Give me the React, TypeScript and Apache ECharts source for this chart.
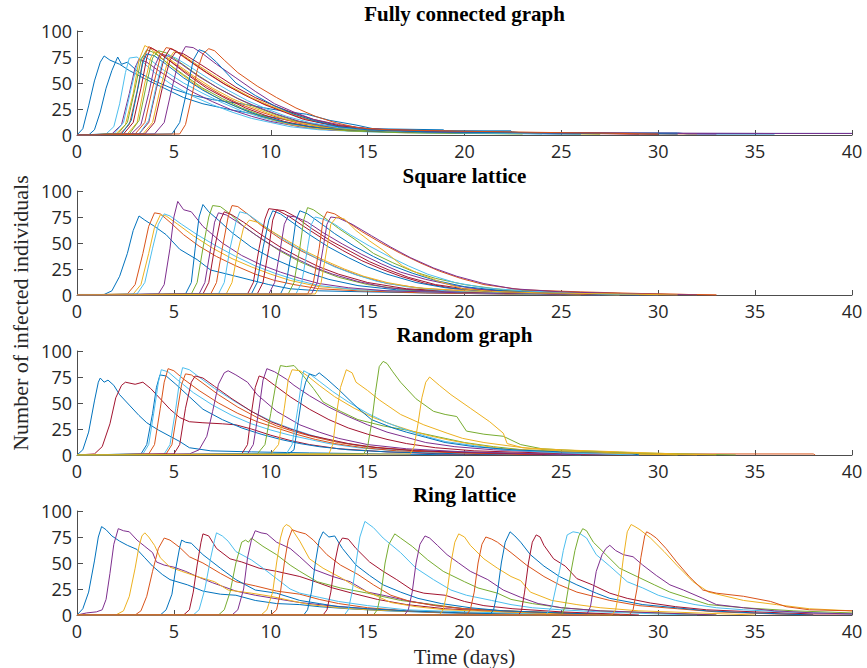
import React, { useEffect, useRef } from "react";
import * as echarts from "echarts";

type Curve = { c: number; p: number[][] };

const COLORS = ["#0072BD", "#D95319", "#EDB120", "#7E2F8E", "#77AC30", "#4DBEEE", "#A2142F"];
const PANEL_TITLES = ["Fully connected graph", "Square lattice", "Random graph", "Ring lattice"];
const X_LABEL = "Time (days)";
const Y_LABEL = "Number of infected individuals";
const X_RANGE = [0, 40, 5];
const Y_RANGE = [0, 100, 25];

const fullyConnected: Curve[] = [
  { c: 0, p: [[0,0],[0.3,6],[0.6,28],[0.9,52],[1.2,70],[1.4,76],[1.7,72],[2.2,68],[2.7,62],[3.5,54],[4.5,45],[5.5,36],[6.5,30],[8,24],[9.5,19],[11,14],[12.5,10],[14,7],[16,5],[19,4],[22.5,3],[23,2],[31,2],[31.5,1],[36,1]] },
  { c: 0, p: [[0,0],[0.6,0],[0.9,5],[1.2,22],[1.5,45],[1.8,62],[2.1,75],[2.3,68],[2.6,70],[3.2,60],[4,52],[5,44],[6,38],[7,34],[8.5,30],[10,25],[11,22],[11.85,20],[13.06,14],[14.4,9.6],[15.3,6],[18.9,5],[19,4],[22.4,4],[22.5,1.5],[40,1.5]] },
  { c: 5, p: [[0,0],[1.5,1],[1.9,8],[2.2,30],[2.5,60],[2.7,74],[3.1,75],[3.4,70],[4,60],[5,47],[6,37],[7,29],[8,22],[9,16],[10,12],[11,8],[12.5,5],[15,3],[20,2],[25,1]] },
  { c: 3, p: [[0,0],[1.8,1],[2.3,10],[2.7,40],[3.0,65],[3.2,73],[3.6,70],[4.2,62],[5,52],[6,41],[7,32],[8,24],[9,18],[10,13],[11.5,8],[13,5],[16,3],[21,2],[26,1]] },
  { c: 5, p: [[0,0],[1.9,1],[2.4,12],[2.8,45],[3.1,68],[3.4,76],[3.8,72],[4.5,62],[5.5,50],[6.5,40],[7.5,31],[8.5,23],[9.5,17],[10.5,12],[12,7],[14,4],[18,2],[24,1]] },
  { c: 2, p: [[0,0],[2.0,1],[2.5,10],[2.9,40],[3.2,72],[3.5,86],[3.8,83],[4.3,75],[5,64],[6,50],[7,38],[8,29],[9,21],[10,15],[11,10],[12.5,6],[14,4],[18,3],[21,2],[27,1]] },
  { c: 4, p: [[0,0],[2.1,1],[2.6,12],[3.0,45],[3.3,72],[3.6,82],[4,79],[4.6,70],[5.5,58],[6.5,45],[7.5,35],[8.5,26],[9.5,19],[10.5,13],[12,8],[14,4],[17,2],[23,1]] },
  { c: 1, p: [[0,0],[2.2,1],[2.7,10],[3.1,42],[3.4,72],[3.7,85],[4.0,82],[4.6,74],[5.5,62],[6.5,49],[7.5,38],[8.5,29],[9.5,22],[10.5,16],[11.5,11],[13,7],[15,4],[19,3],[24,2],[30,1]] },
  { c: 6, p: [[0,0],[2.4,1],[2.9,12],[3.3,45],[3.6,74],[3.8,84],[4.2,80],[4.8,71],[5.7,58],[6.7,45],[7.7,35],[8.7,26],[9.7,19],[10.7,13],[12,8],[14,5],[17,3],[22,2],[29,1]] },
  { c: 0, p: [[0,0],[2.3,1],[2.8,14],[3.2,50],[3.4,70],[3.6,78],[4,76],[4.6,68],[5.5,55],[6.5,43],[7.5,33],[8.5,25],[9.5,18],[11,11],[12.5,7],[15,4],[20,2],[26,1]] },
  { c: 2, p: [[0,0],[2.6,1],[3.1,12],[3.5,50],[3.8,74],[4.0,80],[4.4,78],[5,70],[6,57],[7,45],[8,35],[9,27],[10,20],[11,14],[12.5,8],[14.5,5],[18,3],[25,2],[32,1]] },
  { c: 4, p: [[0,0],[2.7,1],[3.2,14],[3.6,50],[3.9,74],[4.2,81],[4.6,79],[5.3,70],[6.2,58],[7.2,46],[8.2,36],[9.2,27],[10.2,20],[11.2,14],[12.5,9],[14,5],[17,3],[21,2],[27,1]] },
  { c: 3, p: [[0,0],[2.8,1],[3.3,10],[3.7,40],[4.0,66],[4.3,78],[4.7,76],[5.4,68],[6.3,56],[7.3,45],[8.3,35],[9.3,27],[10.3,20],[11.5,13],[13,8],[15,5],[19,3],[25,2],[33,1]] },
  { c: 1, p: [[0,0],[3.0,1],[3.5,12],[3.9,45],[4.3,75],[4.6,84],[4.9,83],[5.5,75],[6.5,62],[7.5,50],[8.5,40],[9.5,31],[10.5,24],[11.5,17],[12.5,12],[14,7],[16,4],[20,3],[26,2],[31,1]] },
  { c: 6, p: [[0,0],[3.2,1],[3.7,12],[4.1,45],[4.5,74],[4.8,83],[5.1,81],[5.7,73],[6.7,60],[7.7,48],[8.7,38],[9.7,29],[10.7,22],[11.7,15],[13,10],[15,6],[18,4],[23,2],[30,1]] },
  { c: 5, p: [[0,0],[3.2,1],[3.7,14],[4.1,48],[4.4,70],[4.7,77],[5.1,74],[5.8,66],[6.8,54],[7.8,43],[8.8,33],[9.8,25],[10.8,18],[12,12],[13.5,7],[16,4],[20,2],[26,1]] },
  { c: 2, p: [[0,0],[3.4,1],[3.9,12],[4.3,45],[4.7,72],[5.0,80],[5.3,79],[6,70],[7,58],[8,46],[9,36],[10,28],[11,21],[12,15],[13.5,9],[15.5,5],[19,3],[24,2]] },
  { c: 6, p: [[0,0],[3.5,1],[4.0,12],[4.4,45],[4.8,72],[5.1,80],[5.5,78],[6.2,70],[7.2,58],[8.2,46],[9.2,36],[10.2,28],[11.2,21],[12.2,15],[13.5,9],[15.5,5],[19,3],[25,2],[30,1]] },
  { c: 3, p: [[0,0],[4.0,1],[4.5,12],[4.9,45],[5.3,75],[5.6,85],[6.0,84],[6.5,78],[7.2,68],[8.2,55],[9.2,42],[10.2,30],[11.2,22],[12.2,15],[13.5,10],[15,6],[18,3],[25,2],[36,1.5],[40,1.5]] },
  { c: 0, p: [[0,0],[4.9,1],[5.3,12],[5.7,45],[6.0,72],[6.3,82],[6.6,80],[7.2,70],[8.2,50],[9.2,38],[10.2,28],[11.2,20],[12.2,14],[13.5,8],[15,5],[18,3],[24,2],[31,1]] },
  { c: 1, p: [[0,0],[5.3,1],[5.6,10],[5.9,35],[6.2,62],[6.5,78],[6.8,83],[7.1,81],[7.6,72],[8.3,60],[9.3,47],[10.3,36],[11.3,26],[12.3,18],[13.3,12],[14.5,7],[16,5],[19,4],[22,3],[26,2],[30,1]] },
];

const squareLattice: Curve[] = [
  { c: 0, p: [[0,0.5],[1.4,0.5],[1.8,4],[2.2,18],[2.6,40],[2.9,62],[3.2,76],[3.5,72],[4,66],[4.6,58],[5.3,44],[6.2,34],[6.9,24],[8.2,18],[9.9,10],[11,6],[12.5,4],[15,3],[18,2],[22,1],[25,0]] },
  { c: 1, p: [[0,0],[2.6,1],[3.0,10],[3.4,40],[3.7,66],[4.0,79],[4.3,78],[4.8,70],[5.5,58],[6.3,47],[7.2,37],[8.2,28],[9.2,20],[10.2,14],[11.2,10],[12.5,6],[14.5,4],[18,2],[22,1],[25,0]] },
  { c: 2, p: [[0,0],[2.9,1],[3.3,10],[3.7,40],[4.0,65],[4.3,77],[4.6,76],[5.2,68],[6,57],[7,45],[8,35],[9,27],[10,20],[11,14],[12.5,8],[14.5,5],[18,3],[23,1],[26,0]] },
  { c: 5, p: [[0,0],[3.1,1],[3.5,12],[3.9,45],[4.2,68],[4.5,78],[4.8,76],[5.4,68],[6.2,58],[7.2,47],[8.2,37],[9.2,28],[10.2,21],[11.2,15],[12.5,9],[14.5,5],[18,3],[23,1],[27,0]] },
  { c: 3, p: [[0,0],[4.2,1],[4.5,10],[4.8,45],[5.0,75],[5.2,90],[5.5,82],[5.9,80],[6.5,66],[7.5,50],[8.5,38],[9.5,29],[10.5,22],[11.5,16],[12.5,11],[14,7],[16,4],[20,2],[25,1],[28,0]] },
  { c: 0, p: [[0,0],[5.6,1],[5.9,12],[6.1,45],[6.3,75],[6.5,87],[6.8,80],[7.3,72],[8,60],[9,46],[10,36],[11,28],[12,21],[13,15],[14.5,9],[16.5,5],[20,3],[25,1],[28,0]] },
  { c: 4, p: [[0,0],[5.9,1],[6.2,12],[6.5,45],[6.8,75],[7.0,86],[7.4,85],[7.9,78],[8.6,66],[9.5,54],[10.5,42],[11.5,32],[12.5,24],[13.5,17],[15,10],[17,5],[20,3],[25,1],[28,0]] },
  { c: 3, p: [[0,0],[6.3,1],[6.6,12],[6.9,45],[7.1,70],[7.3,79],[7.7,77],[8.3,70],[9.2,58],[10.2,46],[11.2,36],[12.2,27],[13.2,20],[14.5,13],[16,7],[18,4],[22,2],[27,0]] },
  { c: 6, p: [[0,0],[6.5,1],[6.8,12],[7.1,45],[7.4,72],[7.6,80],[8.0,77],[8.6,70],[9.5,58],[10.5,46],[11.5,36],[12.5,27],[13.5,20],[15,12],[17,6],[20,3],[25,1],[28,0]] },
  { c: 1, p: [[0,0],[6.9,1],[7.2,12],[7.5,45],[7.8,75],[8.0,86],[8.3,85],[8.8,78],[9.5,67],[10.5,54],[11.5,43],[12.5,34],[13.5,26],[14.5,19],[16,11],[18,6],[21,3],[25,2],[30,1],[33,0]] },
  { c: 5, p: [[0,0],[7.3,1],[7.6,12],[7.9,45],[8.2,70],[8.4,80],[8.8,78],[9.4,70],[10.3,58],[11.3,46],[12.3,36],[13.3,27],[14.3,20],[15.5,13],[17,8],[19,4],[23,2],[28,0]] },
  { c: 2, p: [[0,0],[7.7,1],[8.0,12],[8.3,42],[8.6,65],[8.9,72],[9.3,70],[9.9,63],[10.8,53],[11.8,42],[12.8,33],[13.8,25],[14.8,18],[16,12],[17.5,7],[20,4],[24,2],[28,0]] },
  { c: 6, p: [[0,0],[8.8,1],[9.1,12],[9.4,45],[9.7,73],[9.9,83],[10.3,82],[10.9,76],[11.7,66],[12.7,54],[13.7,43],[14.7,33],[15.7,25],[16.7,18],[18,11],[19.5,6],[22,3],[26,1],[29,0]] },
  { c: 0, p: [[0,0],[9.0,1],[9.3,12],[9.6,45],[9.9,72],[10.1,81],[10.5,78],[11.1,70],[12,58],[13,46],[14,36],[15,27],[16,20],[17.5,12],[19,7],[21,4],[25,2],[29,0]] },
  { c: 6, p: [[0,0],[9.3,1],[9.6,12],[9.9,45],[10.1,72],[10.3,82],[10.7,81],[11.3,75],[12.1,64],[13.1,52],[14.1,42],[15.1,32],[16.1,24],[17.1,17],[18.5,10],[20,6],[23,3],[27,1],[30,0]] },
  { c: 3, p: [[0,0],[9.9,1],[10.2,12],[10.5,45],[10.7,68],[10.9,76],[11.3,75],[11.9,70],[12.7,60],[13.7,49],[14.7,39],[15.7,30],[16.7,22],[18,15],[19.5,9],[21,5],[24,3],[28,1],[31,0]] },
  { c: 0, p: [[0,0],[10.5,1],[10.8,12],[11.1,45],[11.3,72],[11.5,81],[11.9,78],[12.5,70],[13.3,59],[14.3,47],[15.3,37],[16.3,28],[17.3,21],[18.5,14],[20,8],[22,4],[25,2],[29,0]] },
  { c: 4, p: [[0,0],[10.9,1],[11.2,12],[11.5,45],[11.7,72],[11.9,84],[12.2,82],[12.8,74],[13.5,64],[14.3,54],[15.3,40],[16.3,31],[17.3,23],[18.5,16],[20,10],[22,5],[25,3],[29,1],[32,0]] },
  { c: 5, p: [[0,0],[11.3,1],[11.6,12],[11.9,45],[12.1,68],[12.3,75],[12.7,73],[13.3,68],[14.1,58],[15.1,47],[16.1,37],[17.1,28],[18.1,20],[19.5,12],[21,7],[23,4],[27,1],[30,0]] },
  { c: 1, p: [[0,0],[11.9,1],[12.2,12],[12.5,45],[12.7,72],[12.9,80],[13.3,78],[13.9,71],[14.7,61],[15.7,50],[16.7,40],[17.7,31],[18.7,23],[19.8,16],[21,10],[23,5],[26,3],[30,1],[33,0]] },
  { c: 3, p: [[0,0],[12.1,1],[12.4,12],[12.7,45],[12.9,68],[13.1,75],[13.5,74],[14.2,68],[15.2,57],[16.2,46],[17.2,36],[18.4,26],[19.6,18],[21,11],[22.5,6],[25,3],[29,1],[32,0]] },
  { c: 2, p: [[0,0],[12.3,1],[12.6,12],[12.9,45],[13.1,68],[13.4,75],[13.8,73],[14.4,62],[15.1,52],[15.8,43],[16.8,28],[17.7,20],[18.7,13],[19.9,6],[21.4,3.5],[24,2],[28,1],[31,0]] },
];

const randomGraph: Curve[] = [
  { c: 0, p: [[0,0],[0.3,5],[0.6,22],[0.9,52],[1.1,70],[1.2,74],[1.4,70],[1.6,72],[1.9,67],[2.2,58],[2.7,48],[3.2,38],[3.6,31],[4.2,24],[4.8,18],[5.3,13],[5.8,7],[6.9,4],[9,3],[12,2],[16,1],[20,0]] },
  { c: 6, p: [[0,0],[0.9,1],[1.3,8],[1.7,30],[2.0,55],[2.3,67],[2.5,70],[3.0,68],[3.4,70],[3.8,64],[4.3,54],[4.8,44],[5.3,36],[5.8,32],[6.5,31],[7.5,30],[8.2,29],[9,25],[10,19],[11,14],[12,10],[13.5,6],[16,3],[19,1],[22,0]] },
  { c: 0, p: [[0,0],[3.3,1],[3.6,10],[3.9,40],[4.1,65],[4.28,77],[4.6,76],[5.1,68],[5.8,56],[6.5,44],[7.5,34],[8.5,26],[9.5,20],[10.5,15],[11.5,11],[12.5,8],[14,5],[16,3],[20,1],[24,0]] },
  { c: 5, p: [[0,0],[3.4,1],[3.7,10],[4.0,45],[4.2,70],[4.35,82],[4.7,80],[5.2,72],[6,60],[7,48],[8,38],[9,30],[10,24],[11,19],[12,15],[13,11],[14.5,7],[16.5,4],[20,2],[25,0]] },
  { c: 1, p: [[0,0],[3.7,1],[4.0,10],[4.3,45],[4.5,70],[4.7,83],[5.0,81],[5.5,73],[6.3,62],[7.3,50],[8.3,40],[9.3,32],[10.3,26],[11.3,20],[12.3,15],[13.3,11],[14.8,7],[16.5,4],[20,2],[26,1],[38,1],[38.1,0]] },
  { c: 5, p: [[0,0],[4.5,1],[4.8,10],[5.1,45],[5.3,72],[5.45,84],[5.8,82],[6.3,75],[7.1,64],[8.1,52],[9.1,41],[10.1,32],[11.1,25],[12.1,19],[13.1,14],[14.5,9],[16,6],[18,4],[22,2],[26,0]] },
  { c: 1, p: [[0,0],[4.6,1],[4.9,10],[5.2,45],[5.4,68],[5.6,78],[5.9,77],[6.5,69],[7.3,58],[8.3,46],[9.3,36],[10.3,28],[11.3,22],[12.3,17],[13.5,12],[15,8],[17,5],[20,2],[24,0]] },
  { c: 6, p: [[0,0],[5.0,1],[5.3,10],[5.6,45],[5.9,70],[6.1,76],[6.5,74],[7.1,66],[8,54],[9,42],[10,32],[11,25],[12,19],[13,15],[14,11],[15.5,7],[17.5,4],[21,2],[25,0]] },
  { c: 3, p: [[0,0],[5.8,1],[6.3,5],[6.7,18],[7.0,42],[7.3,68],[7.6,79],[7.8,81],[8.2,77],[8.8,70],[9.3,58],[10.3,42],[11.5,29],[12.5,22],[13.5,16],[15,10],[17,6],[20,3],[24,1],[27,0]] },
  { c: 6, p: [[0,0],[8.5,1],[8.8,10],[9.0,40],[9.2,65],[9.4,76],[9.7,74],[10.2,67],[11,56],[12,44],[13,34],[14,26],[15,20],[16,15],[17,11],[18.5,7],[20.5,4],[24,2],[28,0]] },
  { c: 3, p: [[0,0],[8.8,1],[9.1,10],[9.4,45],[9.6,72],[9.8,83],[10.2,80],[10.8,73],[11.2,67],[12,57],[13,46],[14,37],[15,29],[16,22],[17,17],[18,12],[19.5,8],[21.5,5],[25,2],[29,0]] },
  { c: 4, p: [[0,0],[9.3,1],[9.7,10],[10.0,40],[10.3,72],[10.5,86],[10.8,85],[11.2,86],[11.6,78],[12.2,64],[12.7,51],[13.6,42],[14.5,34],[15.8,28],[17,24],[18,20],[19,16],[20,12],[21.5,8],[23,5],[26,3],[31,0]] },
  { c: 2, p: [[0,0],[10.0,1],[10.4,10],[10.7,45],[10.9,72],[11.1,82],[11.5,81],[11.9,76],[12.5,67],[13.3,56],[14.3,45],[15.3,36],[16.3,29],[17.3,23],[18.3,18],[19.3,14],[20.5,10],[22,6],[24,4],[27,2],[31,0]] },
  { c: 5, p: [[0,0],[10.8,1],[11.1,10],[11.4,45],[11.6,72],[11.7,81],[12.0,78],[12.5,71],[13.2,61],[14,51],[15,40],[16,31],[17,24],[18,18],[19,13],[20.5,9],[22,5],[25,2],[29,0]] },
  { c: 0, p: [[0,0],[10.9,1],[11.2,5],[11.4,30],[11.6,55],[11.8,70],[12.0,78],[12.3,76],[12.5,79],[12.9,73],[13.5,63],[14.5,45],[15.2,34],[16.3,26],[17,22],[18,17],[19,12],[20.5,8],[22.5,5],[25,3],[28.5,2],[29,0]] },
  { c: 2, p: [[0,0],[13.0,1],[13.2,10],[13.4,40],[13.6,65],[13.9,82],[14.2,79],[14.4,70],[15,62],[15.6,53],[16.7,39],[17.9,29],[19.1,21],[19.9,16],[21,12],[22.2,9],[23.5,6],[25,4],[28,2],[32,0]] },
  { c: 4, p: [[0,0],[14.8,1],[15.0,8],[15.2,30],[15.4,60],[15.6,85],[15.8,90],[16.0,88],[16.3,80],[16.7,70],[17.5,54],[18.4,42],[19.0,39],[19.6,37],[20.1,23],[21,20],[22,18],[22.9,10],[24,6],[26,4],[29,2],[34,0]] },
  { c: 2, p: [[0,0],[17.2,1],[17.4,8],[17.6,30],[17.8,55],[18.0,70],[18.2,75],[18.7,67],[19.3,58],[20.3,45],[21.3,32],[22,21],[22.2,11],[23,7],[25,5],[28,3],[31,1],[33,0]] },
];

const ringLattice: Curve[] = [
  { c: 0, p: [[0,0],[0.3,6],[0.6,22],[0.9,52],[1.1,75],[1.27,85],[1.5,82],[1.8,76],[2.2,71],[2.6,67],[3.1,63],[3.5,55],[3.9,47],[4.4,39],[4.8,34],[5.7,29],[6.5,23],[7.4,20],[8.2,19],[9.2,14],[10.3,11],[11.5,10],[12.5,8],[14,6],[16,4],[19,2],[23,1],[26,0]] },
  { c: 3, p: [[0,0],[0.5,2],[1.0,3],[1.3,5],[1.5,15],[1.7,40],[1.9,68],[2.13,83],[2.4,81],[2.7,80],[3.1,72],[3.5,66],[3.9,60],[4.1,51],[4.5,48],[5,46],[5.6,42],[6.2,37],[7,31],[8.2,23],[9.2,19],[10.5,15],[11.5,12],[13,9],[15,6],[18,3],[22,1],[26,0]] },
  { c: 2, p: [[0,0],[2.0,0],[2.4,4],[2.7,18],[3.0,45],[3.2,66],[3.35,76],[3.5,79],[3.7,75],[4.0,67],[4.3,55],[4.8,46],[5.4,42],[6.2,37],[7.1,32],[7.8,24],[9,21],[10,18],[11,14],[12,10],[13.5,7],[15,5],[18,3],[22,1],[25,0]] },
  { c: 1, p: [[0,0],[3.0,0],[3.3,4],[3.6,18],[3.9,42],[4.2,64],[4.5,74],[4.8,72],[5.3,65],[5.8,56],[6.5,50],[7.4,40],[8.2,32],[9.2,28],[10.3,23],[11.5,20],[12.5,15],[13.5,11],[15,7],[17,4],[20,2],[24,0]] },
  { c: 0, p: [[0,0],[4.3,0],[4.6,5],[4.9,20],[5.1,45],[5.3,65],[5.4,72],[5.6,70],[5.9,69],[6.5,58],[7.4,45],[8.2,34],[9.2,24],[10.3,21],[11.5,14],[12.5,11],[13.5,8],[15,6],[17,4],[20,2],[24,0]] },
  { c: 6, p: [[0,0],[5.5,0],[5.8,5],[6.0,22],[6.2,48],[6.4,70],[6.5,78],[6.8,76],[7.2,64],[7.9,54],[8.5,51],[9.4,45],[10.3,42],[11.5,37],[12.3,32],[13.2,26],[14.2,21],[15.5,15],[17,10],[19,6],[22,3],[26,0]] },
  { c: 5, p: [[0,0],[6.0,0],[6.3,5],[6.6,25],[6.9,55],[7.1,72],[7.2,79],[7.5,76],[7.8,71],[8.2,61],[9,53],[9.6,45],[10.3,35],[11,25],[11.5,21],[12.5,17],[13.5,13],[15,9],[17,5],[20,3],[24,1],[27,0]] },
  { c: 4, p: [[0,0],[7.3,0],[7.6,5],[7.9,22],[8.2,50],[8.5,70],[8.7,72],[8.85,70],[9.0,74],[9.6,66],[10.3,58],[11,48],[11.5,42],[12.4,32],[13.6,26],[15,21],[16.7,14],[18.4,10],[20,6],[22,4],[25,2],[28,0]] },
  { c: 3, p: [[0,0],[8.0,0],[8.3,5],[8.6,25],[8.8,55],[9.0,72],[9.2,81],[9.5,79],[9.8,78],[10.3,70],[11,64],[11.5,56],[12.2,44],[13.2,37],[14.1,32],[15,22],[15.8,19],[17,14],[18.5,9],[20,6],[23,3],[27,0]] },
  { c: 2, p: [[0,0],[9.5,0],[9.8,5],[10.1,22],[10.3,50],[10.5,74],[10.65,84],[10.8,87],[11.0,85],[11.5,71],[12.0,54],[12.7,45],[13.2,40],[13.7,35],[14.4,27],[15.5,18],[16.2,12],[17.5,8],[19,5],[22,3],[25,1],[28,0]] },
  { c: 1, p: [[0,0],[10.0,0],[10.3,5],[10.5,22],[10.7,50],[10.9,72],[11.1,82],[11.4,80],[11.8,78],[12.2,72],[12.9,58],[13.6,48],[14.5,39],[15.3,29],[16.2,19],[17.2,13],[18.5,9],[20,6],[22,4],[25,2],[28,0]] },
  { c: 0, p: [[0,0],[11.7,0],[11.9,5],[12.1,22],[12.3,50],[12.5,72],[12.7,80],[13.0,75],[13.3,76],[13.7,64],[14.4,48],[15.1,38],[15.8,29],[16.7,22],[17.6,16],[18.8,11],[20.3,7],[22,4],[25,2],[28,0]] },
  { c: 6, p: [[0,0],[12.7,0],[12.9,5],[13.1,22],[13.3,50],[13.5,68],[13.7,74],[14.0,73],[14.4,64],[15.1,51],[15.8,42],[16.5,34],[17.3,24],[17.9,21],[19,19],[20,13],[21,9],[22.5,6],[25,3],[29,0]] },
  { c: 5, p: [[0,0],[13.8,0],[14.0,5],[14.2,22],[14.4,50],[14.6,75],[14.86,90],[15.3,84],[15.8,74],[16.7,60],[17.5,45],[18.4,34],[19.3,24],[20.1,19],[21.4,14],[22.4,10],[23.5,7],[25,5],[27,3],[30,1],[32,0]] },
  { c: 4, p: [[0,0],[15.3,0],[15.5,5],[15.7,22],[15.9,50],[16.1,68],[16.4,78],[16.7,74],[17.3,66],[18.1,53],[18.9,42],[20,32],[20.7,26],[21.7,21],[22.4,15],[23.5,11],[25,7],[27,4],[30,2],[33,0]] },
  { c: 3, p: [[0,0],[16.9,0],[17.1,5],[17.3,22],[17.5,50],[17.7,68],[17.96,76],[18.2,74],[18.6,67],[19.1,58],[19.7,50],[20.3,42],[21.2,34],[22.0,24],[22.9,17],[23.8,11],[25,7],[27,4],[30,2],[33,0]] },
  { c: 2, p: [[0,0],[18.7,0],[18.9,5],[19.1,22],[19.3,50],[19.5,70],[19.7,78],[20.0,75],[20.3,67],[21.0,54],[21.7,45],[22.4,37],[22.9,33],[23.4,22],[24.5,14],[25.8,10],[27,7],[29,4],[32,2],[35,0]] },
  { c: 1, p: [[0,0],[20.1,0],[20.3,5],[20.5,22],[20.7,50],[20.9,68],[21.1,75],[21.4,73],[21.7,70],[22.4,60],[23.2,48],[24.1,37],[24.9,29],[25.8,22],[27.5,14],[29,9],[31,6],[33,3],[36,1],[38,0]] },
  { c: 0, p: [[0,0],[21.3,0],[21.5,5],[21.7,22],[21.9,50],[22.1,70],[22.35,80],[22.6,76],[22.9,70],[23.4,58],[24.1,47],[24.9,37],[25.8,29],[26.8,21],[27.5,16],[29.2,10],[30.9,7],[32.5,4],[35,2],[38,0]] },
  { c: 6, p: [[0,0],[22.8,0],[22.95,5],[23.1,22],[23.3,50],[23.5,70],[23.7,77],[23.9,75],[24.1,67],[24.6,54],[25.2,47],[25.8,35],[26.6,29],[27.5,21],[28.4,16],[29.6,11.5],[30.9,8],[32.5,5],[35,3],[38,1],[40,1]] },
  { c: 5, p: [[0,0],[24.2,0],[24.5,8],[24.9,42],[25.1,62],[25.3,77],[25.6,80],[25.9,79],[26.3,74],[26.8,58],[27.5,47],[28.4,32],[29.2,26],[30,19],[30.9,14],[31.9,10],[33,7],[34.4,5],[36.5,3],[40,1]] },
  { c: 4, p: [[0,0],[25.0,0],[25.2,8],[25.5,42],[25.7,62],[25.9,76],[26.1,83],[26.3,81],[26.65,70],[27.3,58],[28,45],[28.9,37],[29.8,29],[30.6,22],[31.6,16],[32.6,10],[34.4,7],[37,4],[40,2]] },
  { c: 3, p: [[0,0],[26.3,0],[26.5,8],[26.8,42],[27.1,58],[27.3,64],[27.5,67],[27.8,62],[28.2,58],[28.7,56],[29.2,48],[29.9,38],[30.6,29],[31.3,24],[32.3,16],[33,10],[34.4,7],[36,4],[38,2],[40,1]] },
  { c: 2, p: [[0,0],[27.6,0],[27.8,5],[28.0,25],[28.2,55],[28.4,80],[28.6,87],[28.8,85],[29.06,82],[29.6,74],[30.3,61],[30.95,48],[31.8,32],[32.6,22],[34.4,14],[36.1,10],[37.8,6],[40,4]] },
  { c: 1, p: [[0,0],[28.5,0],[28.7,5],[28.9,25],[29.1,55],[29.3,76],[29.4,80],[29.6,78],[29.9,74],[30.4,64],[30.95,51],[31.6,37],[32.3,24],[33,21],[34.4,18],[35.8,13],[36.6,8],[37.8,5],[40,4]] },
];

const PANELS: Curve[][] = [fullyConnected, squareLattice, randomGraph, ringLattice];

export default function App() {
  const ref = useRef<HTMLDivElement>(null);
  useEffect(() => {
    if (!ref.current) return;
    const chart = echarts.init(ref.current, undefined, { renderer: "svg" });
    const tops = [31, 191, 351, 511];
    const titleY = [14, 176, 335, 495];
    const axisColor = "#4d4d4d";
    const labelStyle = { fontFamily: "Open Sans", fontSize: 18, color: "#262626" };
    const grids = tops.map((t) => ({ left: 77, width: 775, top: t, height: 104 }));
    const xAxes = tops.map((_, i) => ({
      gridIndex: i, type: "value", min: X_RANGE[0], max: X_RANGE[1], interval: X_RANGE[2],
      axisLine: { show: true, lineStyle: { color: axisColor, width: 1 } },
      axisTick: { show: true, inside: true, length: 5, lineStyle: { color: axisColor } },
      axisLabel: { ...labelStyle, margin: 7 },
      splitLine: { show: false },
    }));
    const yAxes = tops.map((_, i) => ({
      gridIndex: i, type: "value", min: Y_RANGE[0], max: Y_RANGE[1], interval: Y_RANGE[2],
      axisLine: { show: true, lineStyle: { color: axisColor, width: 1 } },
      axisTick: { show: true, inside: true, length: 6, lineStyle: { color: axisColor } },
      axisLabel: { ...labelStyle, margin: 5 },
      splitLine: { show: false },
    }));
    const series: any[] = [];
    PANELS.forEach((curves, i) => {
      curves.forEach((cv) => {
        series.push({
          type: "line", xAxisIndex: i, yAxisIndex: i, data: cv.p,
          showSymbol: false, symbol: "none", silent: true, clip: true,
          lineStyle: { width: 1, color: COLORS[cv.c] }, itemStyle: { color: COLORS[cv.c] },
        });
      });
    });
    const graphic: any[] = PANEL_TITLES.map((t, i) => ({
      type: "text", x: 464.5, y: titleY[i],
      style: { text: t, textAlign: "center", textVerticalAlign: "middle", font: "bold 21px 'Liberation Serif', serif", fill: "#000" },
    }));
    graphic.push({
      type: "text", x: 20, y: 313, rotation: Math.PI / 2,
      style: { text: Y_LABEL, textAlign: "center", textVerticalAlign: "middle", font: "22px 'Liberation Serif', serif", fill: "#262626" },
    });
    graphic.push({
      type: "text", x: 464.5, y: 657,
      style: { text: X_LABEL, textAlign: "center", textVerticalAlign: "middle", font: "21px 'Liberation Serif', serif", fill: "#262626" },
    });
    chart.setOption({
      animation: false,
      backgroundColor: "#ffffff",
      grid: grids, xAxis: xAxes, yAxis: yAxes, series, graphic,
    });
    return () => chart.dispose();
  }, []);
  return <div ref={ref} style={{ position: "fixed", left: 0, top: 0, width: 867, height: 668 }} />;
}
